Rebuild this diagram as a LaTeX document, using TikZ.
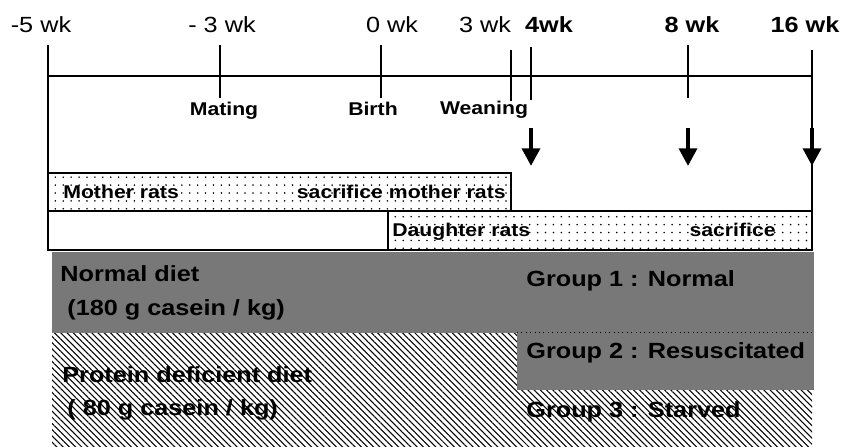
\documentclass[tikz,border=0pt]{standalone}
\usepackage{fontspec}
\setmainfont{Liberation Sans}[FakeStretch=1.15]
\usetikzlibrary{arrows.meta, patterns.meta, positioning}

\begin{document}
\begin{tikzpicture}[x=0.02cm, y=-0.02cm,
  wk/.style={font=\fontsize{12.5}{14}\selectfont, anchor=base, inner sep=0pt},
  wkb/.style={wk, font=\fontsize{12.5}{14}\selectfont\bfseries},
  event/.style={font=\fontsize{10.5}{12}\selectfont\bfseries, anchor=base, inner sep=0pt},
  rats/.style={font=\fontsize{10.5}{12}\selectfont\bfseries, inner sep=0pt},
  diet/.style={font=\fontsize{12.5}{14}\selectfont\bfseries, anchor=base west, inner sep=0pt},
  dotfill/.style={pattern={Dots[distance=4.5pt, radius=0.5pt]}},
  darkfill/.style={fill=black!53},
  hatch/.style={pattern={Lines[angle=-45, distance=2.5pt, line width=0.6pt]}},
  tick/.style={line width=0.8pt},
  box/.style={draw, line width=1pt},
  sacr/.style={line width=2.4pt, -{Triangle[width=10pt, length=10pt]}}]
  \useasboundingbox (0,0) rectangle (844,446);

  \node[wk] (m5) at (41,33) {-5 wk};
  \node[wk] (m3) at (222,33) {- 3 wk};
  \node[wk] (w0) at (392,33) {0 wk};
  \node[wk] (w3) at (485,33) {3 wk};
  \node[wkb] (w4) at (549,33) {4wk};
  \node[wkb] (w8) at (692,33) {8 wk};
  \node[wkb] (w16) at (805,33) {16 wk};

  \draw[line width=0.6pt] (48,76) -- (812,76);
  \draw[tick] (48,45) -- (48,173);
  \draw[tick] (220,45) -- (220,98);
  \draw[tick] (381,45) -- (381,98);
  \draw[tick] (511,50) -- (511,101);
  \draw[tick] (531,47) -- (531,100);
  \draw[tick] (688,45) -- (688,98);
  \draw[tick] (812,50) -- (812,211);

  \node[event] (mating) at (224,115) {Mating};
  \node[event] (birth) at (373,115) {Birth};
  \node[event] (weaning) at (484,114) {Weaning};

  \coordinate (s4) at (531,128);
  \coordinate (e4) at (531,166);
  \coordinate (s8) at (688,128);
  \coordinate (e8) at (688,166);
  \coordinate (s16) at (812,128);
  \coordinate (e16) at (812,166);
  \draw[sacr] (s4) -- (e4);
  \draw[sacr] (s8) -- (e8);
  \draw[sacr] (s16) -- (e16);

  \fill[dotfill] (48,173) rectangle (511,211);
  \draw[box] (48,173) rectangle (511,211);
  \fill[dotfill] (388,211) rectangle (812,250);
  \draw[box] (48,211) rectangle (812,250);
  \draw[box] (388,211) -- (388,250);
  \node[rats, anchor=base west] (mother) at (63,198) {Mother rats};
  \node[rats, anchor=base east] (sacmother) at (506,198) {sacrifice mother rats};
  \node[rats, anchor=base west] (daughter) at (392,236) {Daughter rats};
  \node[rats, anchor=base east] (sacdaughter) at (776,236) {sacrifice};

  \fill[darkfill] (52,252) rectangle (814,333);
  \fill[hatch] (52,333) rectangle (812,446);
  \fill[darkfill] (517,333) rectangle (814,390);
  \draw[dotted, line width=0.5pt] (517,332.5) -- (814,332.5);

  \node[diet] (normal) at (60,281) {Normal diet};
  \node[diet] (normalc) at (67,315) {(180 g casein / kg)};
  \node[diet] (protein) at (62,382) {Protein deficient diet};
  \node[diet] (proteinc) at (67,415) {( 80 g casein / kg)};
  \node[diet] (g1) at (526,286) {Group 1 : Normal};
  \node[diet] (g2) at (526,358) {Group 2 : Resuscitated};
  \node[diet] (g3) at (526,417) {Group 3 : Starved};
\end{tikzpicture}
\end{document}
